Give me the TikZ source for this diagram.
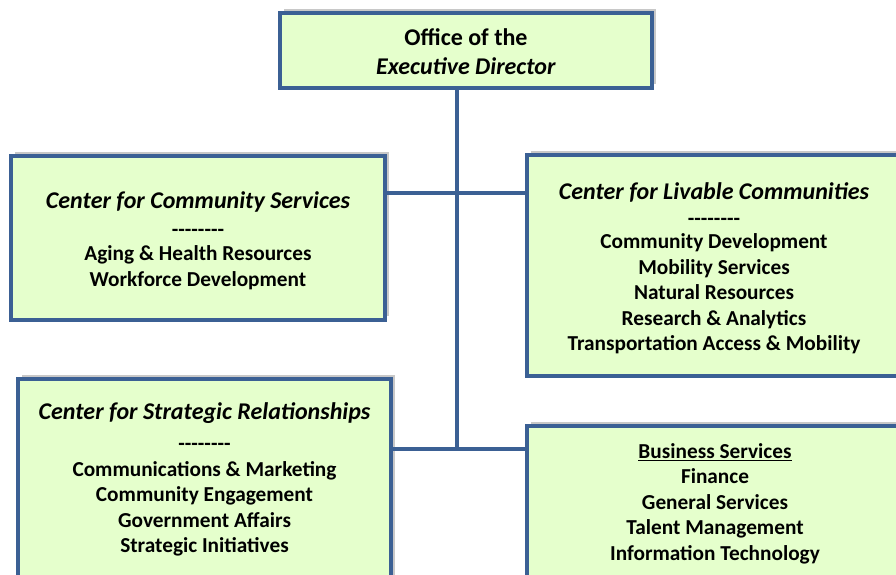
\documentclass[tikz,border=0pt]{standalone}
\usepackage{fontspec}
\setmainfont{Carlito}
\usetikzlibrary{shadows}
\definecolor{boxfill}{RGB}{229,255,204}
\definecolor{boxline}{RGB}{59,96,148}
\definecolor{shadowgray}{RGB}{200,200,200}
\newcommand{\dashrow}{-{}-{}-{}-{}-{}-{}-{}-}
\newcommand{\ttl}[1]{\rule{0pt}{20pt}{\fontsize{24}{25.5}\selectfont\itshape #1}}
\tikzset{
  orgbox/.style={draw=boxline, line width=4pt, fill=boxfill, inner sep=0pt, outer sep=0pt,
    drop shadow={shadow xshift=4pt, shadow yshift=4pt, fill=shadowgray, opacity=1}},
  orgtext/.style={align=center, anchor=north, font=\fontsize{21.3}{25.5}\selectfont\bfseries, inner sep=0pt},
  link/.style={draw=boxline, line width=4pt}
}
\begin{document}
\begin{tikzpicture}[x=1pt, y=-1pt]
\useasboundingbox (0,0) rectangle (896,575);
\fill[white] (0,0) rectangle (896,575);
% boxes
\node[orgbox, minimum width=372pt, minimum height=75pt] (top) at (466,50.5) {};
\node[orgbox, minimum width=374pt, minimum height=164pt] (ccs) at (198,238) {};
\node[orgbox, minimum width=383pt, minimum height=221pt] (clc) at (718.5,265.5) {};
\node[orgbox, minimum width=373pt, minimum height=211pt] (csr) at (204.5,484.5) {};
\node[orgbox, minimum width=383pt, minimum height=164pt] (bs) at (718.5,508) {};
% junctions
\coordinate (j1) at (457,193);
\coordinate (j2) at (457,449);
% connectors
\draw[link] (top.south -| j1) -- (j2);
\draw[link] (ccs.east |- j1) -- (clc.west |- j1);
\draw[link] (csr.east |- j2) -- (bs.west |- j2);
% texts
\node[orgtext, font=\fontsize{24}{29}\selectfont\bfseries] (ttop) at (466,25.5) {\rule{0pt}{20pt}Office of the\\\textit{Executive Director}};
\node[orgtext] (tccs) at (198,188.5) {\ttl{Center for Community Services}\\[2.5pt]\dashrow\\[-1.5pt]Aging \& Health Resources\\Workforce Development};
\node[orgtext] (tclc) at (714,179.5) {\ttl{Center for Livable Communities}\\[0.5pt]\dashrow\\[-2.5pt]Community Development\\Mobility Services\\Natural Resources\\Research \& Analytics\\Transportation Access \& Mobility};
\node[orgtext] (tcsr) at (204.5,399) {\ttl{Center for Strategic Relationships}\\[5.5pt]\dashrow\\[0.5pt]Communications \& Marketing\\Community Engagement\\Government Affairs\\Strategic Initiatives};
\node[orgtext] (tbs) at (715,438) {\rule{0pt}{20pt}\underline{Business Services}\\Finance\\General Services\\Talent Management\\Information Technology};
\end{tikzpicture}
\end{document}
